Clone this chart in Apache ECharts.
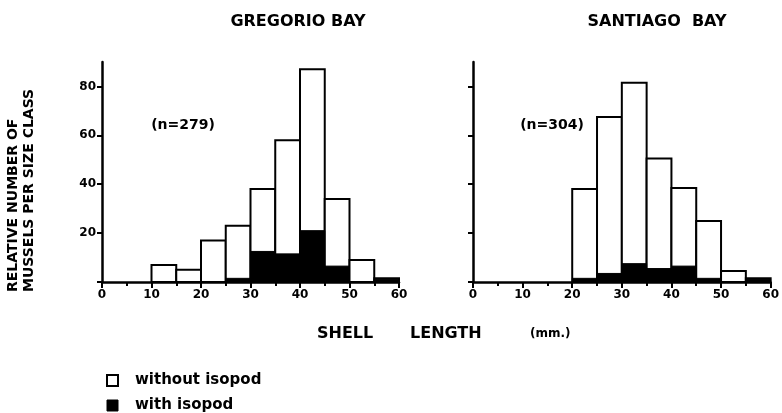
<!DOCTYPE html>
<html>
<head>
<meta charset="utf-8">
<script src="https://cdn.jsdelivr.net/npm/echarts@6/dist/echarts.min.js"></script>
<style>html,body{margin:0;padding:0;background:#fff;}#c{width:782px;height:413px;}</style>
</head>
<body>
<div id="c"></div>
<script>
// Size classes (mm): start of each 5-mm bin
var binStarts = [0, 5, 10, 15, 20, 25, 30, 35, 40, 45, 50, 55];
var binWidth = 5;
// Gregorio Bay
var gregorioWithout = [0, 0, 7, 5, 17, 21.5, 25.5, 46.5, 66, 27.5, 9, 0.3];
var gregorioWith    = [0, 0, 0, 0, 0, 1.5, 12.5, 11.5, 21, 6.5, 0, 1.2];
// Santiago Bay
var santiagoWithout = [0, 0, 0, 0, 36.5, 64, 74, 45, 32, 23.5, 4.5, 0.5];
var santiagoWith    = [0, 0, 0, 0, 1.5, 3.5, 7.5, 5.5, 6.5, 1.5, 0, 1];

var xTickLabels = [0, 10, 20, 30, 40, 50, 60];
var yTickLabels = [20, 40, 60, 80];
var panelTitles = ['GREGORIO BAY', 'SANTIAGO  BAY'];
var sampleSizes = ['(n=279)', '(n=304)'];

var FONT = 'DejaVu Sans';

function totalData(without, withI) {
  return binStarts.map(function (s, i) { return [s, s + binWidth, without[i] + withI[i]]; });
}
function withData(withI) {
  return binStarts.map(function (s, i) { return [s, s + binWidth, withI[i]]; });
}
function makeRender(fill) {
  return function (params, api) {
    var v = api.value(2);
    if (!v) return null;
    var p0 = api.coord([api.value(0), 0]);
    var p1 = api.coord([api.value(1), v]);
    return {
      type: 'rect',
      shape: { x: p0[0], y: p1[1], width: p1[0] - p0[0], height: p0[1] - p1[1] },
      style: { fill: fill, stroke: '#000', lineWidth: fill === '#fff' ? 2 : 1 }
    };
  };
}

function xAxisCfg(idx) {
  return {
    type: 'value', gridIndex: idx, min: 0, max: 60, interval: 10,
    axisLine: { lineStyle: { color: '#000', width: 2.5 } },
    axisTick: { show: true, length: 6, lineStyle: { color: '#000', width: 2 } },
    minorTick: { show: true, splitNumber: 2, length: 4, lineStyle: { color: '#000', width: 2 } },
    splitLine: { show: false },
    axisLabel: { color: '#000', fontFamily: FONT, fontWeight: 'bold', fontSize: 12, margin: 7,
      customValues: xTickLabels }
  };
}
function yAxisCfg(idx, showLabels) {
  return {
    type: 'value', gridIndex: idx, min: 0, max: 90,
    axisLine: { show: true, lineStyle: { color: '#000', width: 2.5 } },
    axisTick: { show: true, length: 5, lineStyle: { color: '#000', width: 2 },
      customValues: [0].concat(yTickLabels) },
    splitLine: { show: false },
    axisLabel: { show: showLabels, color: '#000', fontFamily: FONT, fontWeight: 'bold', fontSize: 12, margin: 6,
      customValues: yTickLabels }
  };
}

var chart = echarts.init(document.getElementById('c'));
chart.setOption({
  backgroundColor: '#fff',
  animation: false,
  grid: [
    { left: 102, top: 62, width: 297, height: 220 },
    { left: 473, top: 62, width: 298, height: 220 }
  ],
  xAxis: [xAxisCfg(0), xAxisCfg(1)],
  yAxis: [yAxisCfg(0, true), yAxisCfg(1, false)],
  legend: {
    orient: 'vertical', left: 106, top: 373, itemWidth: 11, itemHeight: 11, itemGap: 10,
    padding: 0,
    textStyle: { color: '#000', fontFamily: FONT, fontWeight: 'bold', fontSize: 15, lineHeight: 14, padding: [0, 0, 0, 12] },
    data: [
      { name: 'without isopod', icon: 'rect', itemStyle: { color: '#fff', borderColor: '#000', borderWidth: 2 } },
      { name: 'with isopod', icon: 'rect', itemStyle: { color: '#000', borderColor: '#000', borderWidth: 1 } }
    ]
  },
  series: [
    { name: 'without isopod', type: 'custom', xAxisIndex: 0, yAxisIndex: 0, itemStyle: { color: '#fff' },
      renderItem: makeRender('#fff'), data: totalData(gregorioWithout, gregorioWith), encode: { x: [0, 1], y: 2 } },
    { name: 'with isopod', type: 'custom', xAxisIndex: 0, yAxisIndex: 0, itemStyle: { color: '#000' },
      renderItem: makeRender('#000'), data: withData(gregorioWith), encode: { x: [0, 1], y: 2 } },
    { name: 'without isopod', type: 'custom', xAxisIndex: 1, yAxisIndex: 1, itemStyle: { color: '#fff' },
      renderItem: makeRender('#fff'), data: totalData(santiagoWithout, santiagoWith), encode: { x: [0, 1], y: 2 } },
    { name: 'with isopod', type: 'custom', xAxisIndex: 1, yAxisIndex: 1, itemStyle: { color: '#000' },
      renderItem: makeRender('#000'), data: withData(santiagoWith), encode: { x: [0, 1], y: 2 } }
  ],
  graphic: [
    { type: 'text', x: 298, y: 22, style: { text: panelTitles[0], font: 'bold 16px "DejaVu Sans"', fill: '#000', align: 'center', verticalAlign: 'middle' } },
    { type: 'text', x: 657, y: 22, style: { text: panelTitles[1], font: 'bold 16px "DejaVu Sans"', fill: '#000', align: 'center', verticalAlign: 'middle' } },
    { type: 'text', x: 183, y: 125, style: { text: sampleSizes[0], font: 'bold 14px "DejaVu Sans"', fill: '#000', align: 'center', verticalAlign: 'middle' } },
    { type: 'text', x: 552, y: 125, style: { text: sampleSizes[1], font: 'bold 14px "DejaVu Sans"', fill: '#000', align: 'center', verticalAlign: 'middle' } },
    { type: 'text', x: 13, y: 292, rotation: Math.PI / 2, style: { text: 'RELATIVE NUMBER OF', font: 'bold 14px "DejaVu Sans"', fill: '#000', align: 'left', verticalAlign: 'middle' } },
    { type: 'text', x: 29, y: 292, rotation: Math.PI / 2, style: { text: 'MUSSELS PER SIZE CLASS', font: 'bold 14px "DejaVu Sans"', fill: '#000', align: 'left', verticalAlign: 'middle' } },
    { type: 'text', x: 317, y: 334, style: { text: 'SHELL', font: 'bold 16px "DejaVu Sans"', fill: '#000', align: 'left', verticalAlign: 'middle' } },
    { type: 'text', x: 410, y: 334, style: { text: 'LENGTH', font: 'bold 16px "DejaVu Sans"', fill: '#000', align: 'left', verticalAlign: 'middle' } },
    { type: 'text', x: 530, y: 334, style: { text: '(mm.)', font: 'bold 12px "DejaVu Sans"', fill: '#000', align: 'left', verticalAlign: 'middle' } }
  ]
});
</script>
</body>
</html>
